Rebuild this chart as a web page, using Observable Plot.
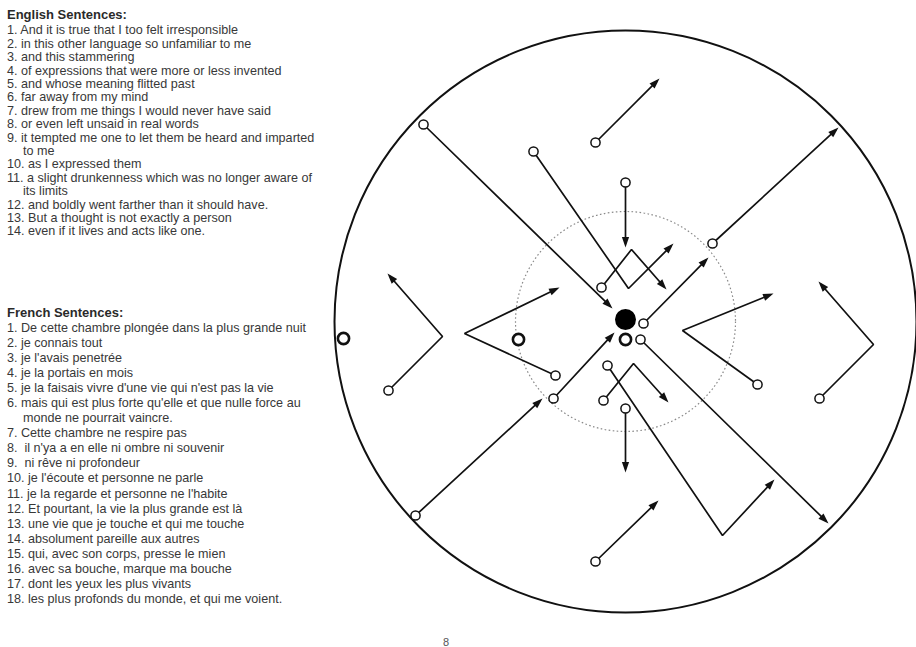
<!DOCTYPE html>
<html>
<head>
<meta charset="utf-8">
<script src="https://cdn.jsdelivr.net/npm/d3@7"></script>
<script src="https://cdn.jsdelivr.net/npm/@observablehq/plot@0.6"></script>
<style>
  html, body { margin: 0; padding: 0; background: #fff; width: 916px; height: 647px; overflow: hidden; }
  #page { position: relative; width: 916px; height: 647px; font-family: "Liberation Sans", Arial, Helvetica, sans-serif; color: #383838; }
  .block { position: absolute; left: 7px; width: 330px; font-size: 12.6px; }
  .head { font-weight: bold; font-size: 13px; color: #2a2a2a; line-height: 15px; }
  #enList { line-height: 13.4px; }
  #frList { line-height: 15.1px; }
  .item { white-space: pre-line; padding-left: 16px; text-indent: -16px; }
  #chart { position: absolute; left: 330px; top: 0; }
  #pageno { position: absolute; left: 443px; top: 636px; font-size: 11px; color: #555; }
</style>
</head>
<body>
<div id="page">
  <div id="enHead" class="block head" style="top:7px"></div>
  <div id="enList" class="block" style="top:24.3px"></div>
  <div id="frHead" class="block head" style="top:304.5px"></div>
  <div id="frList" class="block" style="top:320.5px"></div>
  <div id="chart"></div>
  <div id="pageno"></div>
</div>
<script>
// ---------- text content ----------
const englishTitle = "English Sentences:";
const englishSentences = [
  "And it is true that I too felt irresponsible",
  "in this other language so unfamiliar to me",
  "and this stammering",
  "of expressions that were more or less invented",
  "and whose meaning flitted past",
  "far away from my mind",
  "drew from me things I would never have said",
  "or even left unsaid in real words",
  "it tempted me one to let them be heard and imparted\nto me",
  "as I expressed them",
  "a slight drunkenness which was no longer aware of\nits limits",
  "and boldly went farther than it should have.",
  "But a thought is not exactly a person",
  "even if it lives and acts like one."
];
const frenchTitle = "French Sentences:";
const frenchSentences = [
  "De cette chambre plongée dans la plus grande nuit",
  "je connais tout",
  "je l'avais penetrée",
  "je la portais en mois",
  "je la faisais vivre d'une vie qui n'est pas la vie",
  "mais qui est plus forte qu'elle et que nulle force au\nmonde ne pourrait vaincre.",
  "Cette chambre ne respire pas",
  "\u00a0il n'ya a en elle ni ombre ni souvenir",
  "\u00a0ni rêve ni profondeur",
  "je l'écoute et personne ne parle",
  "je la regarde et personne ne l'habite",
  "Et pourtant, la vie la plus grande est là",
  "une vie que je touche et qui me touche",
  "absolument pareille aux autres",
  "qui, avec son corps, presse le mien",
  "avec sa bouche, marque ma bouche",
  "dont les yeux les plus vivants",
  "les plus profonds du monde, et qui me voient."
];
const pageNumber = "8";

// ---------- diagram values (offsets from the centre, y up) ----------
const outerRadius = 291;
const innerRadius = 110;
const arrowPaths = [
  [[-202, 197], [-13, 13]],
  [[-92, 170], [3, 33], [48, 78]],
  [[-24, 34], [6, 72], [41, 32]],
  [[0, 139], [0, 74]],
  [[-30, 179], [34, 243]],
  [[18, -2], [83, 64]],
  [[87, 78], [213, 194]],
  [[132, -63], [57, -9], [148, 28]],
  [[194, -77], [248, -23], [193, 40]],
  [[-237, -69], [-183, -15], [-238, 48]],
  [[-70, -54], [-161, -12], [-66, 34]],
  [[-210, -194], [-83, -77]],
  [[-72, -77], [-11, -11]],
  [[15, -18], [203, -202]],
  [[-22, -79], [8, -42], [43, -81]],
  [[-18, -44], [97, -214], [149, -158]],
  [[0, -87], [0, -151]],
  [[-30, -240], [33, -179]]
];
const boldRings = [[-282, -17], [-107, -18], [0, -18]];
const centerDot = [[0, 2]];

// ---------- text ----------
function fillList(el, items) {
  items.forEach((s, i) => {
    const d = document.createElement("div");
    d.className = "item";
    d.textContent = (i + 1) + ". " + s;
    el.appendChild(d);
  });
}
document.getElementById("enHead").textContent = englishTitle;
document.getElementById("frHead").textContent = frenchTitle;
fillList(document.getElementById("enList"), englishSentences);
fillList(document.getElementById("frList"), frenchSentences);
document.getElementById("pageno").textContent = pageNumber;

// ---------- diagram ----------
const W = 586, H = 647;
const xDomain = [-295, 291], yDomain = [-326, 321];
const sx = d3.scaleLinear().domain(xDomain).range([0, W]);
const rpx = v => sx(v) - sx(0);

const lineRows = arrowPaths.flatMap((pts, i) => {
  const n = pts.length;
  const [ax, ay] = pts[n - 2], [bx, by] = pts[n - 1];
  const len = Math.hypot(bx - ax, by - ay);
  const trim = 4;
  return pts.map(([x, y], j) => j === n - 1
    ? {id: i, x: bx - (bx - ax) * trim / len, y: by - (by - ay) * trim / len}
    : {id: i, x, y});
});
const heads = arrowPaths.map(pts => {
  const n = pts.length;
  const [ax, ay] = pts[n - 2], [bx, by] = pts[n - 1];
  return {x: bx, y: by, angle: Math.atan2(bx - ax, by - ay) * 180 / Math.PI};
});
const starts = arrowPaths.map(p => ({x: p[0][0], y: p[0][1]}));
const rings = boldRings.map(([x, y]) => ({x, y}));
const dots = centerDot.map(([x, y]) => ({x, y}));
const origin = [{x: 0, y: 0}];

const arrowHead = {
  draw(ctx) {
    ctx.moveTo(0, 0);
    ctx.lineTo(-3.6, 10.5);
    ctx.lineTo(3.6, 10.5);
    ctx.closePath();
  }
};

const chart = Plot.plot({
  width: W,
  height: H,
  margin: 0,
  x: {domain: xDomain, axis: null},
  y: {domain: yDomain, axis: null},
  style: {background: "transparent", maxWidth: "none", overflow: "visible"},
  marks: [
    Plot.dot(origin, {x: "x", y: "y", r: rpx(innerRadius), fill: "none", stroke: "#8a8a8a", strokeWidth: 1.2, strokeDasharray: "1.6,2.4"}),
    Plot.dot(origin, {x: "x", y: "y", r: rpx(outerRadius), fill: "none", stroke: "#111", strokeWidth: 2}),
    Plot.line(lineRows, {x: "x", y: "y", z: "id", stroke: "#111", strokeWidth: 1.7, strokeLinejoin: "miter", curve: "linear"}),
    Plot.dot(heads, {x: "x", y: "y", rotate: "angle", symbol: arrowHead, r: 5, fill: "#111", stroke: "none"}),
    Plot.dot(starts, {x: "x", y: "y", r: 4.6, fill: "white", stroke: "#111", strokeWidth: 1.5}),
    Plot.dot(rings, {x: "x", y: "y", r: 5.6, fill: "white", stroke: "#111", strokeWidth: 2.6}),
    Plot.dot(dots, {x: "x", y: "y", r: 10.5, fill: "#000", stroke: "none"})
  ]
});
document.getElementById("chart").appendChild(chart);
</script>
</body>
</html>
